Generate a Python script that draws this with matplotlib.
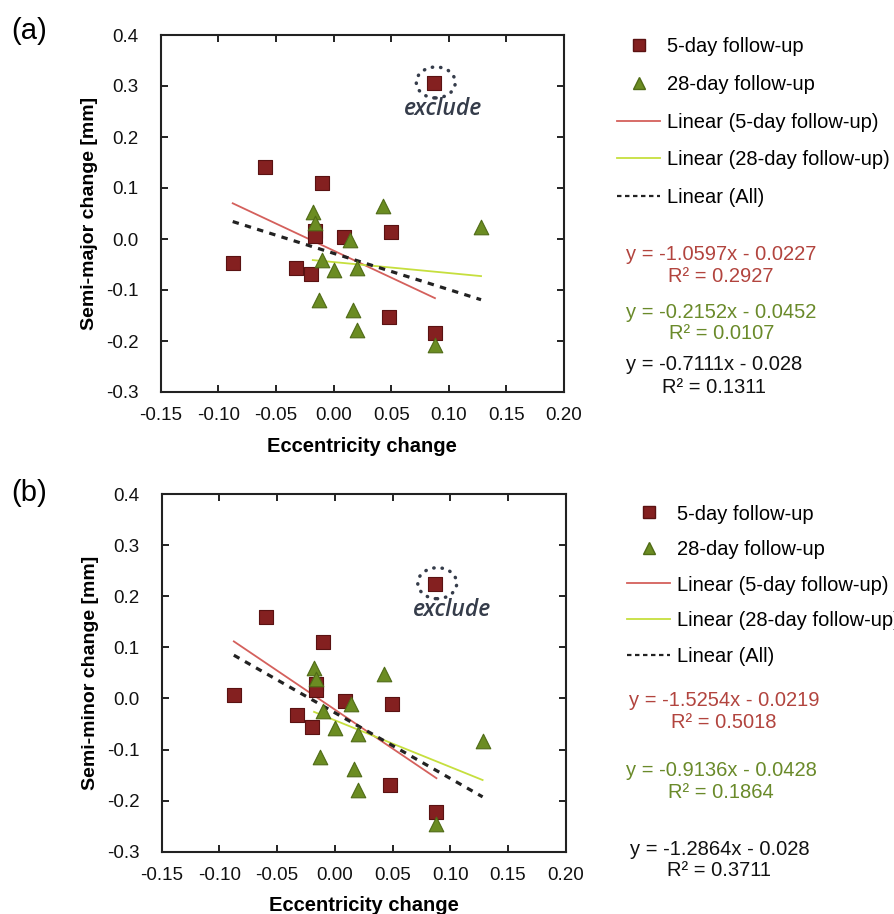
import matplotlib
matplotlib.use("Agg")
import matplotlib.pyplot as plt
from matplotlib.lines import Line2D
from matplotlib.patches import Ellipse
from matplotlib.transforms import ScaledTranslation
from matplotlib.ticker import FormatStrFormatter

plt.rcParams['font.family'] = ['Liberation Sans', 'DejaVu Sans']
plt.rcParams['axes.unicode_minus'] = False

# Eccentricity change (shared by both panels)
ecc_5day = [0.087, -0.0595, -0.010, -0.0165, -0.0165, 0.009, 0.0495,
            -0.0875, -0.033, -0.0195, 0.048, 0.088]
ecc_28day = [-0.018, -0.016, 0.0425, 0.128, 0.014, -0.010, 0.0003,
             0.020, -0.013, 0.017, 0.020, 0.088]
excluded_idx = 0  # outlier in the 5-day group, left out of the fits

# (a) semi-major axis change [mm]
major_5day = [0.305, 0.142, 0.110, 0.016, 0.006, 0.003, 0.014,
              -0.047, -0.057, -0.068, -0.152, -0.184]
major_28day = [0.052, 0.032, 0.065, 0.023, -0.002, -0.042, -0.060,
               -0.057, -0.119, -0.140, -0.178, -0.208]
major_fits = {"5day": (-1.0597, -0.0227, 0.2927),
              "28day": (-0.2152, -0.0452, 0.0107),
              "all": (-0.7111, -0.028, 0.1311)}

# (b) semi-minor axis change [mm]
minor_5day = [0.2235, 0.160, 0.110, 0.028, 0.016, -0.005, -0.011,
              0.007, -0.032, -0.056, -0.169, -0.222]
minor_28day = [0.059, 0.038, 0.048, -0.084, -0.011, -0.025, -0.058,
               -0.069, -0.114, -0.139, -0.180, -0.245]
minor_fits = {"5day": (-1.5254, -0.0219, 0.5018),
              "28day": (-0.9136, -0.0428, 0.1864),
              "all": (-1.2864, -0.028, 0.3711)}

x_ticks = [-0.15, -0.10, -0.05, 0.00, 0.05, 0.10, 0.15, 0.20]
y_ticks = [-0.3, -0.2, -0.1, 0.0, 0.1, 0.2, 0.3, 0.4]
legend_labels = ["5-day follow-up", "28-day follow-up",
                 "Linear (5-day follow-up)", "Linear (28-day follow-up)",
                 "Linear (All)"]

SQ_FACE, SQ_EDGE = "#842020", "#5a1212"
TRI_FACE, TRI_EDGE = "#6b8c22", "#4f6b16"
RED_LINE, GREEN_LINE = "#d4605c", "#c6df3e"
RED_TEXT, GREEN_TEXT = "#b2443e", "#6a8a2a"
EXCL_COLOR = "#353c4a"

W, H = 895, 914
fig = plt.figure(figsize=(W / 100, H / 100), dpi=100)


def fx(px):
    return px / W


def fy(py):
    return 1 - py / H


def fit_line(ax, coeffs, xs, **kw):
    m, b, _ = coeffs
    x0, x1 = min(xs), max(xs)
    ax.plot([x0, x1], [m * x0 + b, m * x1 + b], **kw)


def draw_panel(rect, y5, y28, fits, ylabel, tag, tag_y, excl_offset,
               leg_anchor, leg_spacing, eq_pos):
    ax = fig.add_axes(rect)
    x5_in = [x for i, x in enumerate(ecc_5day) if i != excluded_idx]
    fit_line(ax, fits["5day"], x5_in, color=RED_LINE, lw=1.3, zorder=2)
    fit_line(ax, fits["28day"], ecc_28day, color=GREEN_LINE, lw=1.3, zorder=2)
    fit_line(ax, fits["all"], x5_in + ecc_28day, color="#222222", lw=2.3,
             ls=(0, (2.0, 2.0)), zorder=2)
    ax.scatter(ecc_5day, y5, marker="s", s=92, c=SQ_FACE, edgecolors=SQ_EDGE,
               linewidths=0.8, zorder=3)
    ax.scatter(ecc_28day, y28, marker="^", s=110, c=TRI_FACE,
               edgecolors=TRI_EDGE, linewidths=0.8, zorder=4)

    # dotted ring + label around the excluded point
    ex, ey = ecc_5day[excluded_idx], y5[excluded_idx]
    ring = Ellipse((0.02, 0.01), 0.39, 0.31, fill=False, ec=EXCL_COLOR,
                   lw=2.5, ls=(0, (0.1, 2.3)), capstyle="round",
                   transform=fig.dpi_scale_trans
                   + ScaledTranslation(ex, ey, ax.transData), zorder=5)
    ax.add_patch(ring)
    ax.annotate("exclude", xy=(ex, ey), xytext=excl_offset,
                textcoords="offset points", ha="center", va="center",
                fontsize=16.5, style="italic", fontweight="semibold",
                color=EXCL_COLOR,
                family=["Open Sans", "Liberation Sans", "DejaVu Sans"])

    ax.set_xlim(-0.15, 0.20)
    ax.set_ylim(-0.3, 0.4)
    ax.set_xticks(x_ticks)
    ax.set_yticks(y_ticks)
    ax.xaxis.set_major_formatter(FormatStrFormatter("%.2f"))
    ax.yaxis.set_major_formatter(FormatStrFormatter("%.1f"))
    ax.tick_params(direction="in", length=5, width=1.3, top=True, right=True,
                   labelsize=13.5, colors="#111111")
    ax.tick_params(axis="y", pad=16)
    ax.tick_params(axis="x", pad=11)
    for sp in ax.spines.values():
        sp.set_linewidth(1.5)
        sp.set_color("#222222")
    ax.set_xlabel("Eccentricity change", fontsize=14.5, fontweight="bold",
                  labelpad=9)
    ax.set_ylabel(ylabel, fontsize=14, fontweight="bold")
    ax.yaxis.set_label_coords(-0.155, 0.5)

    fig.text(fx(11), fy(tag_y), tag, fontsize=21, va="center", ha="left")

    handles = [
        Line2D([], [], ls="none", marker="s", ms=8, mfc=SQ_FACE, mec=SQ_EDGE),
        Line2D([], [], ls="none", marker="^", ms=8, mfc=TRI_FACE, mec=TRI_EDGE),
        Line2D([], [], color=RED_LINE, lw=1.3),
        Line2D([], [], color=GREEN_LINE, lw=1.3),
        Line2D([], [], color="#222222", lw=1.6, ls=(0, (2.0, 1.6))),
    ]
    fig.legend(handles, legend_labels, loc="upper left",
               bbox_to_anchor=(fx(leg_anchor[0]), fy(leg_anchor[1])),
               frameon=False, fontsize=14.5, handlelength=2.15,
               handletextpad=0.33, labelspacing=leg_spacing, borderpad=0,
               borderaxespad=0)

    # trendline equations
    colors = {"5day": RED_TEXT, "28day": GREEN_TEXT, "all": "#111111"}
    for key in ("5day", "28day", "all"):
        m, b, r2 = fits[key]
        cx, y_eq, y_r2 = eq_pos[key]
        fig.text(fx(cx), fy(y_eq), f"y = {m:g}x - {abs(b):g}",
                 color=colors[key], fontsize=14.5,
                 ha="center", va="center_baseline")
        fig.text(fx(cx), fy(y_r2), f"R\u00b2 = {r2:g}", color=colors[key],
                 fontsize=14.5, ha="center", va="center_baseline")
    return ax


draw_panel([fx(160.7), fy(392), fx(564) - fx(160.7), fy(35) - fy(392)],
           major_5day, major_28day, major_fits, "Semi-major change [mm]",
           "(a)", 31, (6.5, -18.7), (617, 37.5), 0.92,
           {"5day": (721, 253, 275), "28day": (721.5, 310, 331.5),
            "all": (714, 363, 385)})

draw_panel([fx(161.7), fy(851.7), fx(565.7) - fx(161.7), fy(494) - fy(851.7)],
           minor_5day, minor_28day, minor_fits, "Semi-minor change [mm]",
           "(b)", 493, (12, -18.7), (627, 504.5), 0.82,
           {"5day": (724, 699, 720.5), "28day": (721, 769, 790.5),
            "all": (719.5, 847.5, 869)})

fig.savefig("out.png", dpi=100)
